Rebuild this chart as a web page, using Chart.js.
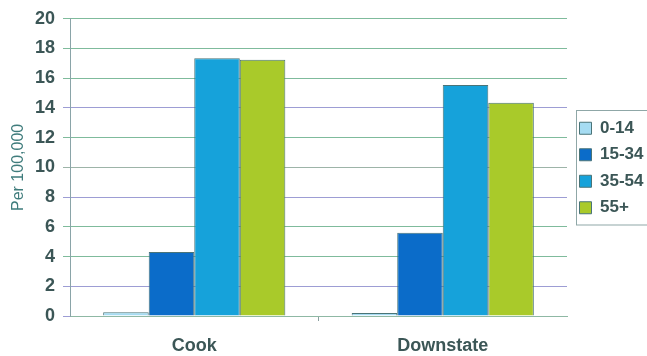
<!DOCTYPE html>
<html>
<head>
<meta charset="utf-8">
<script src="https://cdn.jsdelivr.net/npm/chart.js@4.4.1/dist/chart.umd.min.js"></script>
<style>
  html, body { margin: 0; padding: 0; background: #fff; }
  #wrap { width: 647px; height: 356px; }
</style>
</head>
<body>
<div id="wrap"><canvas id="c" width="647" height="356"></canvas></div>
<script>
const regions = ['Cook', 'Downstate']
const ageGroups = ['0-14', '15-34', '35-54', '55+']
const rate0to14 = [0.25, 0.2]
const rate15to34 = [4.3, 5.6]
const rate35to54 = [17.35, 15.55]
const rate55plus = [17.25, 14.35]
const yTicks = [0, 2, 4, 6, 8, 10, 12, 14, 16, 18, 20]

const barColors = ['#a6dcf2', '#0b6cc9', '#16a2da', '#a9ca2a']
const seriesValues = [rate0to14, rate15to34, rate35to54, rate55plus]

// gridlines alternate between a green and a lavender tint
const lav = '#9d9dd4'
const grn = '#7fbb9c'
const gridTint = { 0: lav, 2: lav, 4: grn, 6: grn, 8: lav, 10: '#9db4a8',
  12: grn, 14: lav, 16: grn, 18: grn, 20: grn }

const textColor = '#3b5656'
const fontFamily = 'Arial, "Liberation Sans", sans-serif'

// nudge the legend up and right after layout
const legendShift = {
  id: 'legendShift',
  afterLayout(chart) {
    const lg = chart.legend
    lg.bottom -= 28
    lg.left += 3
  }
}

// frame around the legend items
const legendFrame = {
  id: 'legendFrame',
  afterDraw(chart) {
    const lg = chart.legend
    if (!lg || !lg.legendHitBoxes.length) return
    const boxes = lg.legendHitBoxes
    const first = boxes[0]
    const last = boxes[boxes.length - 1]
    const ctx = chart.ctx
    ctx.save()
    ctx.strokeStyle = '#8fa7a7'
    ctx.lineWidth = 1
    ctx.strokeRect(576.5, Math.round(first.top) - 9.5, 80, last.top + last.height - first.top + 18)
    ctx.restore()
  }
}

const ctx = document.getElementById('c').getContext('2d')
new Chart(ctx, {
  type: 'bar',
  data: {
    labels: regions,
    datasets: ageGroups.map((g, i) => ({
      label: g,
      data: seriesValues[i],
      backgroundColor: barColors[i],
      borderColor: '#4a7478',
      borderWidth: 1,
      categoryPercentage: 0.733,
      barPercentage: 1
    }))
  },
  options: {
    responsive: false,
    animation: false,
    devicePixelRatio: 1,
    layout: { padding: { top: 8, right: 0, left: 0, bottom: 0 } },
    plugins: {
      tooltip: { enabled: false },
      legend: {
        position: 'right',
        align: 'center',
        maxWidth: 80,
        labels: {
          boxWidth: 12,
          boxHeight: 12,
          padding: 9.5,
          color: textColor,
          font: { family: fontFamily, size: 17, weight: 'bold' }
        }
      }
    },
    scales: {
      x: {
        grid: {
          offset: true,
          drawOnChartArea: true,
          color: c => c.index === 2 ? '#b8c8c8' : 'rgba(0,0,0,0)',
          tickColor: c => c.index === 1 ? '#8aa0a0' : 'rgba(0,0,0,0)',
          tickLength: 5
        },
        border: { color: '#8fb8a4', width: 1 },
        ticks: {
          color: textColor,
          padding: 14,
          font: { family: fontFamily, size: 18, weight: 'bold' }
        },
        afterFit: s => { s.height = 40 }
      },
      y: {
        min: 0,
        max: 20,
        afterBuildTicks: s => { s.ticks = yTicks.map(v => ({ value: v })) },
        grid: {
          color: c => gridTint[c.tick.value] || grn,
          tickLength: 7,
          lineWidth: 1
        },
        border: { color: '#8aa4a8', width: 1 },
        ticks: {
          color: textColor,
          padding: 8,
          font: { family: fontFamily, size: 18, weight: 'bold' }
        },
        title: {
          display: true,
          text: 'Per 100,000',
          color: '#3f7c7c',
          padding: { top: 9, bottom: 0 },
          font: { family: fontFamily, size: 16 }
        },
        afterFit: s => { s.width = 70 }
      }
    }
  },
  plugins: [legendShift, legendFrame]
})
</script>
</body>
</html>
